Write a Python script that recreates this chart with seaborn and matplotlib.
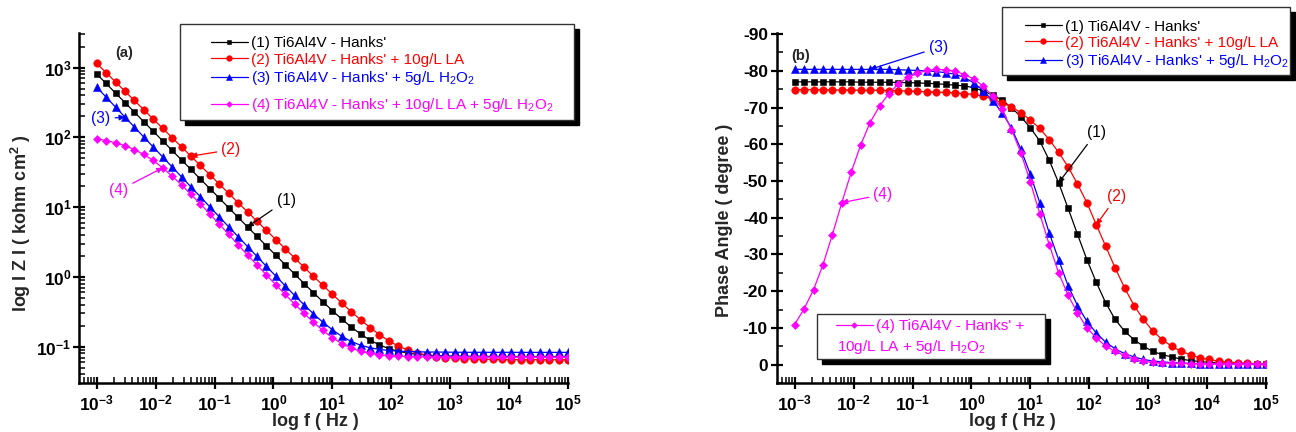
import numpy as np
import matplotlib
matplotlib.use("Agg")
import matplotlib.pyplot as plt
import matplotlib.ticker as mticker
from matplotlib.patches import Rectangle
import seaborn as sns

# ---------------- data ----------------
freq_hz = [0.001, 0.001445, 0.002089, 0.00302, 0.004365, 0.00631, 0.00912, 0.01318, 0.01905, 0.02754,
           0.03981, 0.05754, 0.08318, 0.1202, 0.1738, 0.2512, 0.3631, 0.5248, 0.7586, 1.096,
           1.585, 2.291, 3.311, 4.786, 6.918, 10.0, 14.45, 20.89, 30.2, 43.65,
           63.1, 91.2, 131.8, 190.5, 275.4, 398.1, 575.4, 831.8, 1202, 1738,
           2512, 3631, 5248, 7586, 10960, 15850, 22910, 33110, 47860, 69180, 100000]

# |Z| in kohm cm2
z_hanks = [813, 593, 432, 316, 230, 168, 122, 89.3, 65.2, 47.5,
           34.7, 25.3, 18.5, 13.5, 9.82, 7.16, 5.22, 3.83, 2.79, 2.05,
           1.50, 1.10, 0.805, 0.594, 0.441, 0.329, 0.249, 0.192, 0.152, 0.124,
           0.106, 0.0938, 0.0859, 0.0811, 0.0780, 0.0759, 0.0746, 0.0738, 0.0733, 0.0730,
           0.0727, 0.0725, 0.0723, 0.0721, 0.0721, 0.0720, 0.0720, 0.0720, 0.0720, 0.0720, 0.0720]
z_la = [1151, 847, 624, 459, 338, 249, 183, 135, 99.3, 73.1,
        53.8, 39.6, 29.2, 21.5, 15.8, 11.6, 8.57, 6.31, 4.65, 3.44,
        2.54, 1.87, 1.38, 1.02, 0.759, 0.565, 0.423, 0.318, 0.243, 0.188,
        0.149, 0.121, 0.102, 0.0897, 0.0813, 0.0759, 0.0723, 0.0700, 0.0684, 0.0673,
        0.0667, 0.0662, 0.0659, 0.0656, 0.0655, 0.0653, 0.0653, 0.0652, 0.0652, 0.0652, 0.0652]
z_h2o2 = [525, 378, 272, 195, 141, 101, 72.9, 52.5, 37.8, 27.2,
          19.5, 14.1, 10.1, 7.28, 5.24, 3.78, 2.73, 1.97, 1.42, 1.03,
          0.746, 0.543, 0.399, 0.296, 0.224, 0.175, 0.141, 0.119, 0.105, 0.0966,
          0.0914, 0.0883, 0.0865, 0.0853, 0.0845, 0.0840, 0.0838, 0.0836, 0.0834, 0.0832,
          0.0832, 0.0832, 0.0831, 0.0831, 0.0831, 0.0830, 0.0830, 0.0830, 0.0830, 0.0830, 0.0830]
z_la_h2o2 = [95.1, 90.2, 83.8, 76.0, 66.8, 56.9, 46.7, 36.6, 27.9, 20.9,
             15.3, 11.1, 8.02, 5.74, 4.08, 2.90, 2.06, 1.49, 1.07, 0.774,
             0.561, 0.408, 0.301, 0.224, 0.171, 0.135, 0.111, 0.0953, 0.0859, 0.0800,
             0.0766, 0.0745, 0.0733, 0.0724, 0.0719, 0.0716, 0.0714, 0.0713, 0.0711, 0.0711,
             0.0710, 0.0710, 0.0710, 0.0710, 0.0710, 0.0710, 0.0710, 0.0710, 0.0710, 0.0710, 0.0710]

# phase angle in degrees
ph_hanks = [-77.0, -77.0, -77.0, -77.0, -77.0, -77.0, -77.0, -76.9, -76.9, -76.9,
            -76.9, -76.8, -76.8, -76.7, -76.6, -76.5, -76.3, -76.1, -75.9, -75.4,
            -74.5, -73.4, -72.0, -70.0, -67.5, -64.5, -60.9, -55.7, -49.5, -42.6,
            -35.5, -28.6, -22.4, -16.8, -12.3, -9.1, -6.8, -5.0, -3.6, -2.7,
            -2.1, -1.5, -1.1, -0.85, -0.6, -0.45, -0.35, -0.3, -0.25, -0.2, -0.2]
ph_la = [-74.9, -74.9, -74.9, -74.9, -74.8, -74.8, -74.8, -74.7, -74.7, -74.7,
         -74.6, -74.6, -74.5, -74.4, -74.3, -74.2, -74.1, -74.0, -73.8, -73.6,
         -73.1, -72.3, -71.3, -70.2, -68.6, -66.6, -64.3, -61.3, -57.8, -53.9,
         -49.2, -44.1, -38.1, -32.2, -26.3, -20.9, -16.1, -12.3, -9.1, -6.8,
         -5.0, -3.6, -2.7, -1.8, -1.4, -0.9, -0.7, -0.45, -0.35, -0.3, -0.25]
ph_h2o2 = [-80.4, -80.4, -80.4, -80.4, -80.4, -80.4, -80.4, -80.4, -80.4, -80.4,
           -80.4, -80.3, -80.2, -80.1, -80.0, -79.8, -79.5, -79.1, -78.2, -76.7,
           -74.6, -71.9, -68.6, -64.5, -58.6, -51.8, -44.1, -35.9, -28.6, -21.5,
           -16.1, -11.8, -8.6, -6.1, -4.3, -3.0, -2.1, -1.4, -1.0, -0.75,
           -0.55, -0.45, -0.35, -0.3, -0.25, -0.2, -0.2, -0.15, -0.15, -0.1, -0.1]
ph_la_h2o2 = [-10.9, -15.2, -20.4, -27.2, -35.4, -44.1, -52.4, -59.8, -65.9, -70.4,
              -73.8, -76.5, -78.2, -79.3, -80.1, -80.4, -80.3, -79.9, -79.0, -77.8,
              -75.8, -73.1, -69.5, -64.0, -57.7, -49.7, -41.1, -32.7, -25.0, -18.9,
              -14.1, -10.0, -7.3, -5.0, -3.6, -2.5, -1.5, -0.9, -0.6, -0.45,
              -0.4, -0.35, -0.3, -0.3, -0.25, -0.25, -0.2, -0.2, -0.15, -0.15, -0.1]

series_labels = ["(1) Ti6Al4V - Hanks'",
                 "(2) Ti6Al4V - Hanks' + 10g/L LA",
                 "(3) Ti6Al4V - Hanks' + 5g/L H$_2$O$_2$",
                 "(4) Ti6Al4V - Hanks' + 10g/L LA + 5g/L H$_2$O$_2$"]
pink_label_line1 = "(4) Ti6Al4V - Hanks' +"
pink_label_line2 = "10g/L LA + 5g/L H$_2$O$_2$"
x_ticks = [1e-3, 1e-2, 1e-1, 1e0, 1e1, 1e2, 1e3, 1e4, 1e5]
x_ticklabels = [r"$\mathbf{10^{-3}}$", r"$\mathbf{10^{-2}}$", r"$\mathbf{10^{-1}}$", r"$\mathbf{10^{0}}$",
                r"$\mathbf{10^{1}}$", r"$\mathbf{10^{2}}$", r"$\mathbf{10^{3}}$", r"$\mathbf{10^{4}}$",
                r"$\mathbf{10^{5}}$"]
z_ticks = [1e-1, 1e0, 1e1, 1e2, 1e3]
z_ticklabels = [r"$\mathbf{10^{-1}}$", r"$\mathbf{10^{0}}$", r"$\mathbf{10^{1}}$", r"$\mathbf{10^{2}}$",
                r"$\mathbf{10^{3}}$"]
ph_ticks = [-90, -80, -70, -60, -50, -40, -30, -20, -10, 0]
ph_ticklabels = ["-90", "-80", "-70", "-60", "-50", "-40", "-30", "-20", "-10", "0"]

# ---------------- style ----------------
sns.set_style("ticks")
plt.rcParams.update({
    "font.family": ["Liberation Sans", "DejaVu Sans"],
    "mathtext.fontset": "custom",
    "mathtext.rm": "Liberation Sans",
    "mathtext.it": "Liberation Sans:italic",
    "mathtext.bf": "Liberation Sans:bold",
    "axes.unicode_minus": False,
})

colors = ["#000000", "#ff0000", "#0000ff", "#ff00ff"]
markers = ["s", "o", "^", "D"]
msizes = [4.6, 5.4, 5.6, 3.9]

W, H = 1296, 432
fig = plt.figure(figsize=(W / 100, H / 100), dpi=100)
axL = fig.add_axes([79 / W, 1 - 383 / H, 489 / W, 350 / H])
axR = fig.add_axes([777 / W, 1 - 383 / H, 489 / W, 350 / H])

for ax in (axL, axR):
    ax.set_xscale("log")
axL.set_yscale("log")

z_series = [z_hanks, z_la, z_h2o2, z_la_h2o2]
ph_series = [ph_hanks, ph_la, ph_h2o2, ph_la_h2o2]
linesL, linesR = [], []
for z, ph, c, m, ms, lab in zip(z_series, ph_series, colors, markers, msizes, series_labels):
    sns.lineplot(x=freq_hz, y=z, ax=axL, color=c, marker=m, markersize=ms, linewidth=0.9,
                 markeredgecolor=c, markeredgewidth=0.4, errorbar=None, legend=False)
    linesL.append(axL.lines[-1])
    sns.lineplot(x=freq_hz, y=ph, ax=axR, color=c, marker=m, markersize=ms, linewidth=0.9,
                 markeredgecolor=c, markeredgewidth=0.4, errorbar=None, legend=False)
    linesR.append(axR.lines[-1])

# axes limits / ticks
for ax in (axL, axR):
    ax.set_xlim(10 ** -3.3, 1e5)
    ax.set_xticks(x_ticks)
    ax.set_xticklabels(x_ticklabels)
    ax.xaxis.set_minor_locator(mticker.LogLocator(base=10, subs=np.arange(2, 10), numticks=100))
    ax.xaxis.set_minor_formatter(mticker.NullFormatter())
    for s in ("top", "right"):
        ax.spines[s].set_visible(False)
    for s in ("left", "bottom"):
        ax.spines[s].set_linewidth(1.8)
        ax.spines[s].set_color("black")
    ax.tick_params(which="major", direction="inout", length=9, width=1.6, labelsize=12.5,
                   colors="black")
    ax.tick_params(which="minor", direction="in", length=4, width=1.1, colors="black")
    ax.tick_params(axis="x", which="major", pad=3)
    ax.set_xlabel("log f ( Hz )", fontsize=13, fontweight="bold")

axL.set_ylim(10 ** -1.52, 10 ** 3.496)
axL.set_yticks(z_ticks)
axL.set_yticklabels(z_ticklabels)
axL.yaxis.set_minor_locator(mticker.LogLocator(base=10, subs=np.arange(2, 10), numticks=100))
axL.yaxis.set_minor_formatter(mticker.NullFormatter())
axL.tick_params(axis="y", which="major", pad=1)
axL.set_ylabel(r"log I Z I ( kohm cm$^{\mathbf{2}}$ )", fontsize=13, fontweight="bold")
axL.yaxis.set_label_coords(-0.094, 0.458)
axL.xaxis.set_label_coords(0.4826, -0.0857)

axR.set_ylim(5, -90.3)
axR.set_yticks(ph_ticks)
axR.set_yticklabels(ph_ticklabels, fontweight="bold")
axR.yaxis.set_minor_locator(mticker.MultipleLocator(5))
axR.tick_params(axis="y", which="major", pad=2)
axR.set_ylabel("Phase Angle ( degree )", fontsize=13, fontweight="bold")
axR.yaxis.set_label_coords(-0.090, 0.466)
axR.xaxis.set_label_coords(0.4816, -0.0857)

axL.text(0.0914, 0.943, "(a)", transform=axL.transAxes, ha="center", va="center",
         fontsize=10.5, fontweight="bold")
axR.text(0.0477, 0.935, "(b)", transform=axR.transAxes, ha="center", va="center",
         fontsize=10.5, fontweight="bold")

# ---------------- annotations ----------------
ann_fs = 11.2
def annot(ax, text, idx, vals, c, dx, dy):
    ax.annotate(text, xy=(freq_hz[idx], vals[idx]), xytext=(dx, dy), textcoords="offset pixels",
                ha="center", va="center", color=c, fontsize=ann_fs,
                arrowprops=dict(arrowstyle="-|>", color=c, lw=0.9, mutation_scale=8,
                                shrinkA=1, shrinkB=0))

annot(axL, "(1)", 16, z_hanks, colors[0], 38.5, 26.4)
annot(axL, "(2)", 10, z_la, colors[1], 40, 6.5)
annot(axL, "(3)", 3, z_h2o2, colors[2], -24, -1.7)
annot(axL, "(4)", 7, z_la_h2o2, colors[3], -44, -22.7)
annot(axR, "(3)", 8, ph_h2o2, colors[2], 68.3, 21.9)
annot(axR, "(4)", 5, ph_la_h2o2, colors[3], 41, 8.2)
annot(axR, "(1)", 28, ph_hanks, colors[0], 37.6, 50.3)
annot(axR, "(2)", 32, ph_la, colors[1], 20.4, 28.2)

# ---------------- legends ----------------
def framebox(x0, y0, x1, y1, off=5):
    fig.add_artist(Rectangle(((x0 + off) / W, 1 - (y1 + off) / H), (x1 - x0) / W, (y1 - y0) / H,
                             transform=fig.transFigure, facecolor="black", edgecolor="black",
                             zorder=3))
    fig.add_artist(Rectangle((x0 / W, 1 - y1 / H), (x1 - x0) / W, (y1 - y0) / H,
                             transform=fig.transFigure, facecolor="white", edgecolor="#333333",
                             lw=1.0, zorder=4))

leg_kw = dict(loc="upper left", bbox_transform=fig.transFigure, frameon=False, fontsize=11.0,
              handlelength=2.4, handletextpad=0.2, labelspacing=0.15, borderpad=0,
              borderaxespad=0, markerscale=0.75, numpoints=1)

def make_legend(handles, labels, cols, x, y):
    lg = fig.legend(handles=handles, labels=labels, bbox_to_anchor=(x / W, 1 - y / H), **leg_kw)
    for t, c in zip(lg.get_texts(), cols):
        t.set_color(c)
    lg.set_zorder(6)
    return lg

framebox(180, 24, 574, 120)
make_legend(linesL[:3], series_labels[:3], colors[:3], 211, 36.5)
make_legend(linesL[3:], series_labels[3:], colors[3:], 211, 96)

framebox(1002, 7, 1290, 75)
make_legend(linesR[:3], series_labels[:3], colors[:3], 1025, 19.5)

framebox(817, 314, 1045, 359)
make_legend([linesR[3]], [pink_label_line1], [colors[3]], 836, 319)
fig.text(836.7 / W, 1 - 350.7 / H, pink_label_line2, color=colors[3], fontsize=11.0,
         ha="left", va="baseline", zorder=7)

fig.savefig("out.png", dpi=100)
